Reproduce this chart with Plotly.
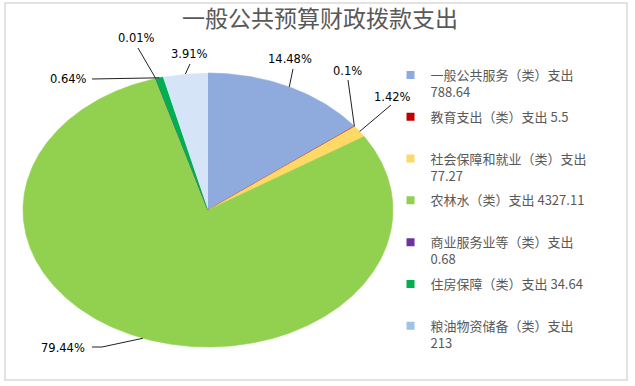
import math
import plotly.graph_objects as go

# ---------------- data ----------------
title_text = "一般公共预算财政拨款支出"
categories = ["一般公共服务（类）支出", "教育支出（类）支出", "社会保障和就业（类）支出",
              "农林水（类）支出", "商业服务业等（类）支出", "住房保障（类）支出",
              "粮油物资储备（类）支出"]
values = [788.64, 5.5, 77.27, 4327.11, 0.68, 34.64, 213]

# ---------------- style ----------------
colors = ["#8FAADC", "#C00000", "#FFD966", "#92D050", "#7030A0", "#00B050", "#3F88D8"]
W, H = 635, 386
CX, CY, RX, RY = 208, 210, 185, 137          # elliptical pie geometry (pixels)
label_pos = [(290, 59), (347, 71), (392, 97), (63, 348), (136, 38), (68, 79), (189, 54)]
leader_pts = [[(293, 69)], [(348, 80)], [(391, 105)], [(102, 347), (92, 347)],
              [(138, 48)], [(92, 79)], [(190, 64)]]

total = sum(values)


def pt(frac):
    a = 2 * math.pi * frac
    return CX + RX * math.sin(a), CY - RY * math.cos(a)


fig = go.Figure()

cum = 0.0
for i, v in enumerate(values):
    f0, f1 = cum / total, (cum + v) / total
    cum += v
    n = max(2, int((f1 - f0) * 720))
    xs, ys = [CX], [CY]
    for k in range(n + 1):
        x, y = pt(f0 + (f1 - f0) * k / n)
        xs.append(x)
        ys.append(y)
    xs.append(CX)
    ys.append(CY)
    kw = dict(x=xs, y=ys, mode="lines", fill="toself", showlegend=False,
              hoverinfo="skip")
    if i == len(values) - 1:
        kw.update(fillcolor="white",
                  fillpattern=dict(shape=".", fgcolor=colors[i], bgcolor="white",
                                   size=2, solidity=0.5),
                  line=dict(width=0, color="white"))
    else:
        kw.update(fillcolor=colors[i], line=dict(width=0.6, color=colors[i]))
    fig.add_trace(go.Scatter(**kw))

# leader lines + percentage labels
cum = 0.0
annotations = []
for i, v in enumerate(values):
    mid = (cum + v / 2) / total
    cum += v
    ax, ay = pt(mid)
    xs = [ax] + [p[0] for p in leader_pts[i]]
    ys = [ay] + [p[1] for p in leader_pts[i]]
    fig.add_trace(go.Scatter(x=xs, y=ys, mode="lines", showlegend=False,
                             hoverinfo="skip", line=dict(color="#222222", width=1)))
    pct = round(v / total * 100, 2)
    annotations.append(dict(x=label_pos[i][0], y=label_pos[i][1], xref="x", yref="y",
                            text=f"{pct:g}%", showarrow=False,
                            font=dict(family="DejaVu Sans", size=11.5, color="#000000"),
                            xanchor="center", yanchor="middle"))

# legend entries
for i, (c, v) in enumerate(zip(categories, values)):
    if len(c) >= 10:
        name = f"{c}<br>{v:g}"
    else:
        name = f"{c} {v:g}<br>&nbsp;"
    fig.add_trace(go.Scatter(x=[None], y=[None], mode="markers", name=name,
                             legendgroup=f"g{i}",
                             marker=dict(symbol="square", size=8,
                                         color="#9DC3E6" if i == len(values) - 1 else colors[i])))

fig.add_shape(type="rect", xref="paper", yref="paper", x0=5 / W, x1=627 / W,
              y0=1 - 380 / H, y1=1 - 3 / H, line=dict(color="#D9D9D9", width=1.5))

fig.update_layout(
    width=W, height=H,
    margin=dict(l=0, r=0, t=0, b=0),
    paper_bgcolor="white", plot_bgcolor="white",
    title=dict(text=title_text, x=320 / W, xanchor="center", y=1 - 19 / H, yanchor="middle",
               font=dict(family="Noto Sans CJK SC", size=23, color="#595959")),
    xaxis=dict(range=[0, W], visible=False, fixedrange=True),
    yaxis=dict(range=[H, 0], visible=False, fixedrange=True),
    annotations=annotations,
    legend=dict(x=0.615, y=1 - 60 / H, xanchor="left", yanchor="top",
                traceorder="grouped", tracegroupgap=5, valign="top",
                font=dict(family="Noto Sans CJK SC", size=13, color="#595959"),
                bgcolor="rgba(0,0,0,0)"),
    showlegend=True,
)

fig.write_html("out.html", config={"displayModeBar": False},
               post_script="document.body.style.margin='0';document.body.style.overflow='hidden';")
